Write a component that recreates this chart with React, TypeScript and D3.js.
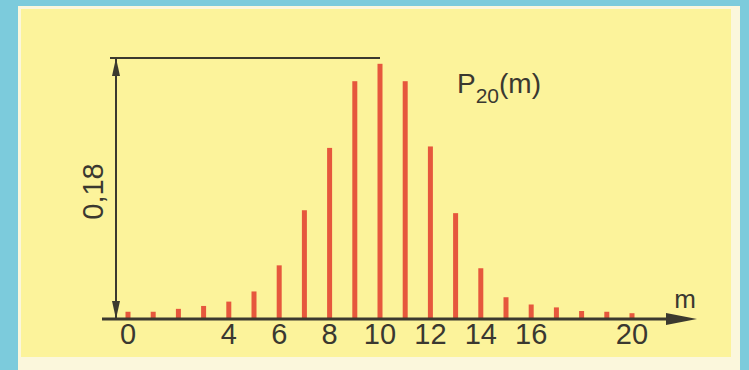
import React from "react";
import * as d3 from "d3";

const ms: number[] = [0, 1, 2, 3, 4, 5, 6, 7, 8, 9, 10, 11, 12, 13, 14, 15, 16, 17, 18, 19, 20];
const probs: number[] = [0.005, 0.005, 0.007, 0.009, 0.012, 0.019, 0.037, 0.075, 0.118, 0.164, 0.176, 0.164, 0.119, 0.073, 0.035, 0.015, 0.01, 0.008, 0.0055, 0.005, 0.004];
const tickLabels: number[] = [0, 4, 6, 8, 10, 12, 14, 16, 20];
const refValue = 0.18;
const refLabel = "0,18";

const W = 749;
const H = 370;

export default function App() {
  const x = d3.scaleLinear().domain([0, 20]).range([128, 632]);
  const y = d3.scaleLinear().domain([0, refValue]).range([319, 58]);
  const axisColor = "#3b392f";
  const barColor = "#e6573d";
  const font = "'Liberation Sans', Arial, sans-serif";
  const textColor = "#3a3830";
  const yArrowX = 116;
  const base = y(0);
  const top = y(refValue);

  return (
    <svg width={W} height={H} style={{ position: "absolute", left: 0, top: 0 }}>
      <rect x={0} y={0} width={W} height={H} fill="#7ccbdc" />
      <rect x={18} y={6} width={722} height={364} fill="#fbf7dc" />
      <rect x={21} y={9} width={710} height={348} fill="#fcf39b" />

      {/* bars */}
      {ms.map((m, i) => (
        <rect
          key={m}
          x={x(m) - 2.5}
          y={y(probs[i])}
          width={5}
          height={base - y(probs[i])}
          fill={barColor}
        />
      ))}

      {/* x axis */}
      <line x1={102} y1={base} x2={680} y2={base} stroke={axisColor} strokeWidth={3} />
      <path d={`M ${666} ${base - 6} L ${697} ${base} L ${666} ${base + 6} Z`} fill={axisColor} />

      {/* reference line */}
      <line x1={110} y1={top} x2={x(10)} y2={top} stroke={axisColor} strokeWidth={2} />
      <line x1={yArrowX} y1={top} x2={yArrowX} y2={base} stroke={axisColor} strokeWidth={2} />
      <path d={`M ${yArrowX - 4} ${top + 18} L ${yArrowX} ${top} L ${yArrowX + 4} ${top + 18} Z`} fill={axisColor} />
      <path d={`M ${yArrowX - 4} ${base - 18} L ${yArrowX} ${base} L ${yArrowX + 4} ${base - 18} Z`} fill={axisColor} />

      {/* tick labels */}
      {tickLabels.map((t) => (
        <text
          key={t}
          x={x(t)}
          y={344}
          textAnchor="middle"
          fontFamily={font}
          fontSize={29}
          fill={textColor}
        >
          {t}
        </text>
      ))}

      {/* axis name */}
      <text x={685} y={308} textAnchor="middle" fontFamily={font} fontSize={26} fill={textColor}>
        m
      </text>

      {/* ref label */}
      <text
        transform={`translate(103, ${(top + base) / 2 + 3}) rotate(-90)`}
        textAnchor="middle"
        fontFamily={font}
        fontSize={29}
        fill={textColor}
      >
        {refLabel}
      </text>

      {/* P20(m) */}
      <text x={457} y={93} fontFamily={font} fontSize={28} fill={textColor}>
        P
        <tspan fontSize={21} dy={10}>20</tspan>
        <tspan fontSize={28} dy={-10}>(m)</tspan>
      </text>
    </svg>
  );
}
